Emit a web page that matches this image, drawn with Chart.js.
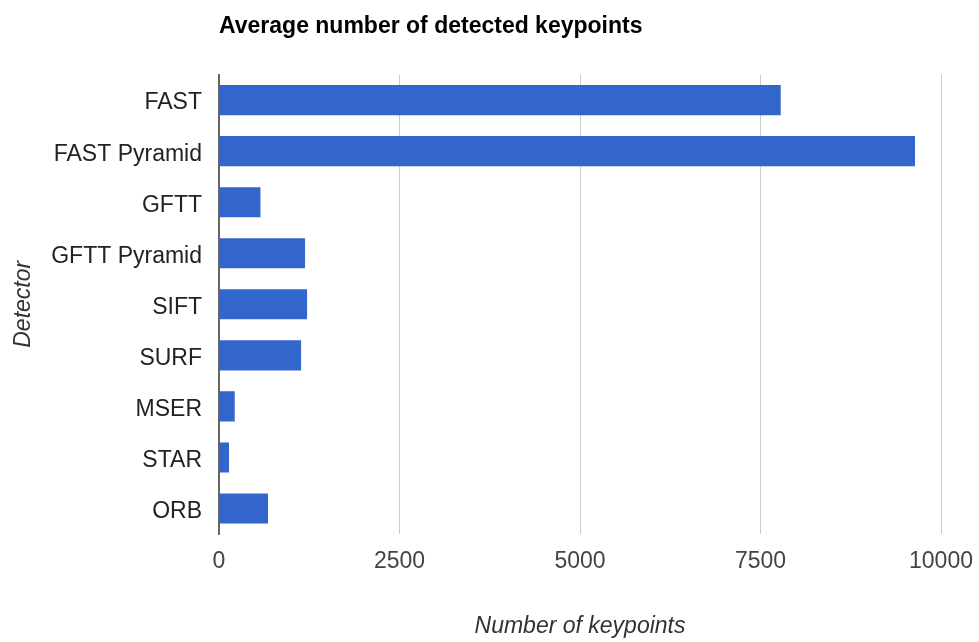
<!DOCTYPE html>
<html>
<head>
<meta charset="utf-8">
<script src="https://cdn.jsdelivr.net/npm/chart.js@4"></script>
<style>
  html, body { margin: 0; padding: 0; background: #fff; }
  #wrap { width: 979px; height: 642px; }
</style>
</head>
<body>
<div id="wrap"><canvas id="c" width="979" height="642"></canvas></div>
<script>
// Detectors and their mean keypoint counts
const detectors = ['FAST', 'FAST Pyramid', 'GFTT', 'GFTT Pyramid', 'SIFT', 'SURF', 'MSER', 'STAR', 'ORB'];
const avgKeypoints = [7780, 9640, 574, 1192, 1220, 1137, 218, 139, 679];
const xTicks = [0, 2500, 5000, 7500, 10000];

const FONT = "'Liberation Sans', Arial, sans-serif";

new Chart(document.getElementById('c'), {
  type: 'bar',
  data: {
    labels: detectors,
    datasets: [{
      data: avgKeypoints,
      backgroundColor: '#3366cc',
      borderWidth: 0,
      categoryPercentage: 1,
      barPercentage: 0.59
    }]
  },
  options: {
    indexAxis: 'y',
    responsive: false,
    animation: false,
    layout: { padding: { left: 0, right: 38, top: 0, bottom: 0 } },
    plugins: {
      legend: { display: false },
      tooltip: { enabled: false },
      title: {
        display: true,
        text: 'Average number of detected keypoints',
        align: 'start',
        fullSize: false,
        color: '#000',
        font: { family: FONT, size: 23, weight: 'bold' },
        padding: { top: 13, bottom: 34 }
      }
    },
    scales: {
      x: {
        type: 'linear',
        min: 0,
        max: 10000,
        afterBuildTicks: (s) => { s.ticks = xTicks.map(v => ({ value: v })); },
        afterFit: (s) => { s.height = 108; s.paddingLeft = 0; s.paddingRight = 0; },
        border: { display: false },
        grid: {
          drawTicks: false,
          color: (ctx) => ctx.tick && ctx.tick.value === 0 ? 'rgba(0,0,0,0)' : '#cccccc',
          lineWidth: 1
        },
        ticks: {
          padding: 14,
          color: '#444',
          font: { family: FONT, size: 23 },
          maxRotation: 0,
          callback: (v) => String(v)
        },
        title: {
          display: true,
          text: 'Number of keypoints',
          color: '#333',
          font: { family: FONT, size: 23, style: 'italic' },
          padding: { top: 0, bottom: 2 }
        }
      },
      y: {
        afterFit: (s) => { s.width = 219; },
        border: { display: true, color: '#666', width: 2 },
        grid: { display: false, drawTicks: false },
        ticks: {
          padding: 17,
          labelOffset: 3,
          color: '#222',
          font: { family: FONT, size: 23 }
        },
        title: {
          display: true,
          text: 'Detector',
          color: '#333',
          font: { family: FONT, size: 23, style: 'italic' },
          padding: { top: 10, bottom: 0 }
        }
      }
    }
  }
});
</script>
</body>
</html>
